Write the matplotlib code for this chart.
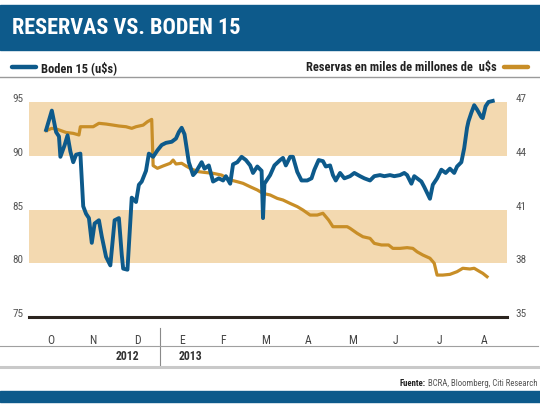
import matplotlib
matplotlib.use("Agg")
import matplotlib.pyplot as plt
import matplotlib.dates as mdates
import matplotlib.transforms as mtransforms
from matplotlib import font_manager
from matplotlib.lines import Line2D
from matplotlib.patches import Rectangle
import pandas as pd

# --- data ------------------------------------------------------------------
boden_dates = [
    "2012-10-13", "2012-10-17", "2012-10-20", "2012-10-22", "2012-10-23", "2012-10-26",
    "2012-10-28", "2012-10-30", "2012-11-01", "2012-11-03", "2012-11-06", "2012-11-08",
    "2012-11-10", "2012-11-12", "2012-11-14", "2012-11-16", "2012-11-19", "2012-11-21",
    "2012-11-24", "2012-11-27", "2012-11-30", "2012-12-03", "2012-12-05", "2012-12-06",
    "2012-12-09", "2012-12-12", "2012-12-15", "2012-12-17", "2012-12-19", "2012-12-22",
    "2012-12-24", "2012-12-27", "2012-12-30", "2013-01-02", "2013-01-05", "2013-01-09",
    "2013-01-12", "2013-01-14", "2013-01-16", "2013-01-18", "2013-01-21", "2013-01-24",
    "2013-01-26", "2013-01-30", "2013-02-01", "2013-02-04", "2013-02-07", "2013-02-11",
    "2013-02-14", "2013-02-16", "2013-02-19", "2013-02-21", "2013-02-24", "2013-02-27",
    "2013-03-02", "2013-03-05", "2013-03-07", "2013-03-10", "2013-03-13", "2013-03-14",
    "2013-03-15", "2013-03-19", "2013-03-22", "2013-03-26", "2013-03-28", "2013-03-30",
    "2013-04-02", "2013-04-04", "2013-04-07", "2013-04-10", "2013-04-14", "2013-04-17",
    "2013-04-19", "2013-04-22", "2013-04-25", "2013-04-27", "2013-04-30", "2013-05-02",
    "2013-05-04", "2013-05-07", "2013-05-10", "2013-05-14", "2013-05-17", "2013-05-21",
    "2013-05-24", "2013-05-28", "2013-05-31", "2013-06-04", "2013-06-07", "2013-06-11",
    "2013-06-14", "2013-06-18", "2013-06-21", "2013-06-23", "2013-06-26", "2013-06-28",
    "2013-06-30", "2013-07-03", "2013-07-05", "2013-07-09", "2013-07-11", "2013-07-14",
    "2013-07-17", "2013-07-20", "2013-07-23", "2013-07-26", "2013-07-28", "2013-07-31",
    "2013-08-02", "2013-08-04", "2013-08-05", "2013-08-07", "2013-08-09", "2013-08-11",
    "2013-08-14", "2013-08-15", "2013-08-17", "2013-08-19", "2013-08-22",
]
boden_values = [
    92.4, 94.2, 92.2, 91.8, 89.9, 91.0,
    91.9, 90.4, 89.4, 90.1, 90.2, 85.3,
    84.6, 84.2, 81.9, 83.7, 84.0, 82.5,
    80.6, 79.8, 84.0, 84.2, 80.8, 79.5,
    79.4, 86.1, 85.7, 87.3, 87.6, 88.6,
    90.2, 89.9, 90.5, 91.0, 91.2, 91.3,
    91.6, 92.2, 92.6, 92.0, 89.4, 88.2,
    88.5, 89.4, 88.8, 89.1, 87.6, 87.9,
    87.7, 88.1, 87.4, 89.2, 89.4, 89.9,
    89.6, 89.1, 88.4, 89.0, 88.6, 84.2,
    87.4, 88.2, 89.1, 89.6, 89.8, 89.1,
    89.9, 89.9, 88.5, 87.7, 87.7, 87.9,
    88.7, 89.6, 89.5, 89.0, 89.1, 88.2,
    87.7, 88.4, 87.9, 88.1, 88.4, 88.1,
    87.9, 87.7, 88.1, 88.2, 88.1, 88.2,
    88.1, 88.2, 88.4, 88.2, 87.4, 88.1,
    87.9, 87.6, 87.1, 86.0, 87.3, 87.9,
    88.7, 88.4, 88.8, 88.4, 89.0, 89.4,
    90.7, 92.6, 93.2, 94.0, 94.7, 94.3,
    93.6, 93.5, 94.6, 95.0, 95.1,
]

reservas_dates = [
    "2012-10-13", "2012-10-17", "2012-10-21", "2012-10-27", "2012-11-01", "2012-11-05",
    "2012-11-06", "2012-11-10", "2012-11-15", "2012-11-19", "2012-11-24", "2012-11-29",
    "2012-12-03", "2012-12-08", "2012-12-12", "2012-12-15", "2012-12-20", "2012-12-23",
    "2012-12-26", "2012-12-27", "2012-12-30", "2013-01-03", "2013-01-08", "2013-01-10",
    "2013-01-12", "2013-01-16", "2013-01-19", "2013-01-23", "2013-01-28", "2013-02-01",
    "2013-02-07", "2013-02-13", "2013-02-19", "2013-02-24", "2013-02-28", "2013-03-05",
    "2013-03-10", "2013-03-14", "2013-03-19", "2013-03-24", "2013-03-28", "2013-04-02",
    "2013-04-07", "2013-04-11", "2013-04-16", "2013-04-21", "2013-04-25", "2013-04-29",
    "2013-05-02", "2013-05-07", "2013-05-12", "2013-05-14", "2013-05-19", "2013-05-23",
    "2013-05-28", "2013-05-31", "2013-06-05", "2013-06-10", "2013-06-13", "2013-06-18",
    "2013-06-23", "2013-06-27", "2013-06-30", "2013-07-04", "2013-07-09", "2013-07-12",
    "2013-07-14", "2013-07-18", "2013-07-23", "2013-07-28", "2013-08-01", "2013-08-06",
    "2013-08-09", "2013-08-13", "2013-08-15", "2013-08-18",
]
reservas_values = [
    45.40, 45.53, 45.47, 45.30, 45.25, 45.16,
    45.62, 45.62, 45.62, 45.81, 45.77, 45.71,
    45.66, 45.62, 45.53, 45.62, 45.71, 45.90,
    46.03, 43.45, 43.30, 43.43, 43.58, 43.76,
    43.54, 43.58, 43.43, 43.25, 43.11, 43.07,
    43.02, 42.92, 42.65, 42.55, 42.46, 42.27,
    42.09, 41.90, 41.81, 41.62, 41.53, 41.34,
    41.16, 40.97, 40.69, 40.69, 40.79, 40.41,
    40.04, 40.04, 40.04, 39.95, 39.67, 39.48,
    39.39, 39.11, 39.02, 39.02, 38.83, 38.83,
    38.87, 38.83, 38.64, 38.46, 38.28, 38.00,
    37.34, 37.34, 37.38, 37.53, 37.72, 37.68,
    37.72, 37.53, 37.44, 37.25,
]

left_ticks = [75, 80, 85, 90, 95]
right_ticks = [35, 38, 41, 44, 47]
band_ranges = [(80, 85), (90, 95)]
month_labels = ["O", "N", "D", "E", "F", "M", "A", "M", "J", "J", "A"]
month_centers = ["2012-10-16", "2012-11-15", "2012-12-16", "2013-01-16", "2013-02-14",
                 "2013-03-16", "2013-04-15", "2013-05-16", "2013-06-15", "2013-07-16",
                 "2013-08-16"]

BLUE = "#0d5a8b"
ORANGE = "#c88e27"
BAND = "#f3d9b0"
TICK = "#555555"


def pick_font(*names):
    avail = {f.name for f in font_manager.fontManager.ttflist}
    for n in names:
        if n in avail:
            return n
    return "DejaVu Sans"


NARROW = pick_font("Liberation Sans Narrow", "Roboto Condensed", "Open Sans Condensed", "Liberation Sans")
plt.rcParams["font.family"] = [NARROW, "DejaVu Sans"]


def to_right(v):
    # left axis 75..95 maps onto right axis 35..47
    return 35 + (v - 75) * 0.6


fig = plt.figure(figsize=(5.4, 4.05), dpi=100)
W, H = 540.0, 405.0


def fy(py):
    return 1 - py / H


# header bar and title
fig.patches.append(Rectangle((0, fy(50)), 1, fy(5) - fy(50), transform=fig.transFigure,
                             color=BLUE, zorder=0))
fig.text(12 / W, fy(28), "RESERVAS VS. BODEN 15", color="white", fontsize=16,
         fontweight="bold", va="center", ha="left")

# legend row
fig.lines.append(Line2D([12 / W, 36 / W], [fy(67), fy(67)], transform=fig.transFigure,
                        color=BLUE, lw=3.2, solid_capstyle="round"))
fig.text(41 / W, fy(68), "Boden 15 (u$s)", fontsize=9, fontweight="bold",
         color="#222222", va="center", ha="left")
fig.lines.append(Line2D([504 / W, 528 / W], [fy(67), fy(67)], transform=fig.transFigure,
                        color=ORANGE, lw=3.2, solid_capstyle="round"))
fig.text(497 / W, fy(68), "Reservas en miles de millones de  u$s", fontsize=9,
         fontweight="bold", color="#222222", va="center", ha="right")
fig.lines.append(Line2D([0, 1], [fy(77), fy(77)], transform=fig.transFigure,
                        color="#9a9a9a", lw=1.0))

# plot area
ymax = 96
ax_top = 317 - (ymax - 75) * 10.75
ax = fig.add_axes([29 / W, fy(317), 478 / W, (317 - ax_top) / H])
ax2 = ax.twinx()
ax.set_zorder(ax2.get_zorder() + 1)
ax.patch.set_visible(False)

xmin, xmax = pd.Timestamp("2012-10-01"), pd.Timestamp("2013-09-01")
for lo, hi in band_ranges:
    ax2.axhspan(to_right(lo), to_right(hi), color=BAND, lw=0, zorder=0)

ax2.plot(pd.to_datetime(reservas_dates), reservas_values, color=ORANGE, lw=2.3,
         solid_joinstyle="round", zorder=2)
ax.plot(pd.to_datetime(boden_dates), boden_values, color=BLUE, lw=2.8,
        solid_joinstyle="round", zorder=3, clip_on=False)

ax.set_xlim(xmin, xmax)
ax.set_ylim(75, ymax)
ax2.set_ylim(to_right(75), to_right(ymax))

ax.set_yticks(left_ticks)
ax.set_yticklabels([str(t) for t in left_ticks])
ax2.set_yticks(right_ticks)
ax2.set_yticklabels([str(t) for t in right_ticks])
ax.tick_params(axis="y", length=0, pad=4, labelsize=8, labelcolor=TICK)
ax2.tick_params(axis="y", length=0, pad=6, labelsize=8, labelcolor=TICK)
for lbl in ax.get_yticklabels() + ax2.get_yticklabels():
    lbl.set_va("baseline")

ax.set_xticks(pd.to_datetime(month_centers))
ax.set_xticklabels(month_labels)
ax.tick_params(axis="x", length=0, pad=12, labelsize=8.5, labelcolor="#444444")

for a in (ax, ax2):
    for s in a.spines.values():
        s.set_visible(False)
ax.spines["bottom"].set_visible(True)
ax.spines["bottom"].set_color("#2b241f")
ax.spines["bottom"].set_linewidth(2.2)

# year row below the months
trans = mtransforms.blended_transform_factory(ax.transData, ax.transAxes)
ax_h = 317 - ax_top
jan1 = mdates.date2num(pd.Timestamp("2013-01-01"))
ax.add_line(Line2D([jan1, jan1], [-(328 - 317) / ax_h, -(365 - 317) / ax_h],
                   transform=trans, color="#8a8a8a", lw=0.8, clip_on=False))
ax.text(mdates.date2num(pd.Timestamp("2012-12-09")), -(357 - 317) / ax_h, "2012",
        transform=trans, ha="center", va="center", fontsize=8.5, fontweight="bold",
        color="#333333")
ax.text(mdates.date2num(pd.Timestamp("2013-01-22")), -(357 - 317) / ax_h, "2013",
        transform=trans, ha="center", va="center", fontsize=8.5, fontweight="bold",
        color="#333333")

fig.lines.append(Line2D([0, 538 / W], [fy(346), fy(346)], transform=fig.transFigure,
                        color="#a0a0a0", lw=0.8))
fig.lines.append(Line2D([0, 538 / W], [fy(367), fy(367)], transform=fig.transFigure,
                        color="#c9c9c9", lw=2.2))

# source note and bottom bar
src = fig.text(537 / W, fy(383), "BCRA, Bloomberg, Citi Research", fontsize=6.3,
               color="#555555", ha="right", va="center")
fig.canvas.draw()
bb = src.get_window_extent()
fig.text(bb.x0 / W - 1.5 / W, fy(383), "Fuente:", fontsize=6.3, fontweight="bold",
         color="#222222", ha="right", va="center")
fig.patches.append(Rectangle((0, fy(402)), 1, fy(391) - fy(402), transform=fig.transFigure,
                             color=BLUE, zorder=0))

fig.savefig("out.png", dpi=100)
